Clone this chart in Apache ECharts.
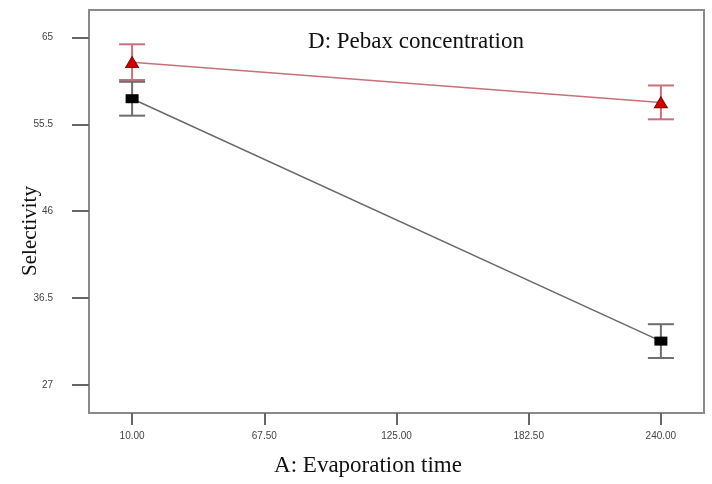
<!DOCTYPE html>
<html>
<head>
<meta charset="utf-8">
<script src="https://cdn.jsdelivr.net/npm/echarts@6/dist/echarts.min.js"></script>
<style>
html,body{margin:0;padding:0;background:#fff;}
#chart{width:712px;height:484px;}
</style>
</head>
<body>
<div id="chart"></div>
<script>
// Data
var xValues = [10, 240];
var xTickValues = [10, 67.5, 125, 182.5, 240];
var yTickValues = [27, 36.5, 46, 55.5, 65];
var highSeries = [62.3, 57.9];      // red triangles
var highError = [1.95, 1.85];
var lowSeries = [58.3, 31.8];       // black squares
var lowError = [1.85, 1.85];

var chart = echarts.init(document.getElementById('chart'), null, {renderer: 'canvas'});

function pairs(vals) {
  return xValues.map(function (x, i) { return [x, vals[i]]; });
}
function errData(vals, errs) {
  return xValues.map(function (x, i) { return [x, vals[i] - errs[i], vals[i] + errs[i]]; });
}
function errSeries(vals, errs, color) {
  return {
    type: 'custom',
    data: errData(vals, errs),
    z: 1,
    silent: true,
    renderItem: function (params, api) {
      var lo = api.coord([api.value(0), api.value(1)]);
      var hi = api.coord([api.value(0), api.value(2)]);
      var hw = 13;
      var st = {stroke: color, lineWidth: 2};
      return {
        type: 'group',
        children: [
          {type: 'line', shape: {x1: lo[0], y1: lo[1], x2: hi[0], y2: hi[1]}, style: st},
          {type: 'line', shape: {x1: lo[0] - hw, y1: lo[1], x2: lo[0] + hw, y2: lo[1]}, style: st},
          {type: 'line', shape: {x1: hi[0] - hw, y1: hi[1], x2: hi[0] + hw, y2: hi[1]}, style: st}
        ]
      };
    }
  };
}

var serif = '"Liberation Serif", "DejaVu Serif", serif';
var sans = '"Liberation Sans", Arial, sans-serif';

chart.setOption({
  animation: false,
  backgroundColor: '#ffffff',
  grid: {left: 89, right: 8, top: 10, bottom: 71, show: true, borderColor: '#8a8a8a', borderWidth: 2,
    backgroundColor: 'transparent', containLabel: false, outerBoundsMode: 'none'},
  graphic: [
    {type: 'text', x: 416, y: 42, style: {text: 'D: Pebax concentration', font: '23px ' + serif, fill: '#111', textAlign: 'center', textVerticalAlign: 'middle'}},
    {type: 'text', x: 368, y: 466, style: {text: 'A: Evaporation time', font: '23px ' + serif, fill: '#111', textAlign: 'center', textVerticalAlign: 'middle'}},
    {type: 'text', x: 30, y: 231, rotation: Math.PI / 2, style: {text: 'Selectivity', font: '21px ' + serif, fill: '#111', textAlign: 'center', textVerticalAlign: 'middle'}}
  ],
  xAxis: {
    type: 'value',
    min: -8.75,
    max: 258.75,
    axisLine: {show: true, onZero: false, lineStyle: {color: '#8a8a8a', width: 2}},
    axisTick: {show: true, length: 12, lineStyle: {color: '#666', width: 2}, customValues: xTickValues},
    axisLabel: {show: true, margin: 18, fontFamily: sans, fontSize: 10, color: '#444', customValues: xTickValues,
      formatter: function (v) { return Number(v).toFixed(2); }},
    splitLine: {show: false}
  },
  yAxis: {
    type: 'value',
    min: 23.94,
    max: 68,
    axisLine: {show: true, onZero: false, lineStyle: {color: '#8a8a8a', width: 2}},
    axisTick: {show: true, length: 17, lineStyle: {color: '#666', width: 2}, customValues: yTickValues},
    axisLabel: {show: true, margin: 36, fontFamily: sans, fontSize: 10, color: '#444', customValues: yTickValues},
    splitLine: {show: false}
  },
  series: [
    errSeries(highSeries, highError, '#c8707a'),
    errSeries(lowSeries, lowError, '#6e6e6e'),
    {
      type: 'line',
      data: pairs(highSeries),
      z: 3,
      symbol: 'triangle',
      symbolSize: [13, 11],
      itemStyle: {color: '#d10000', borderColor: '#7a0000', borderWidth: 1},
      lineStyle: {color: '#c86f78', width: 1.5}
    },
    {
      type: 'line',
      data: pairs(lowSeries),
      z: 3,
      symbol: 'rect',
      symbolSize: [13, 9],
      itemStyle: {color: '#000000'},
      lineStyle: {color: '#6a6a6a', width: 1.5}
    }
  ]
});
</script>
</body>
</html>
